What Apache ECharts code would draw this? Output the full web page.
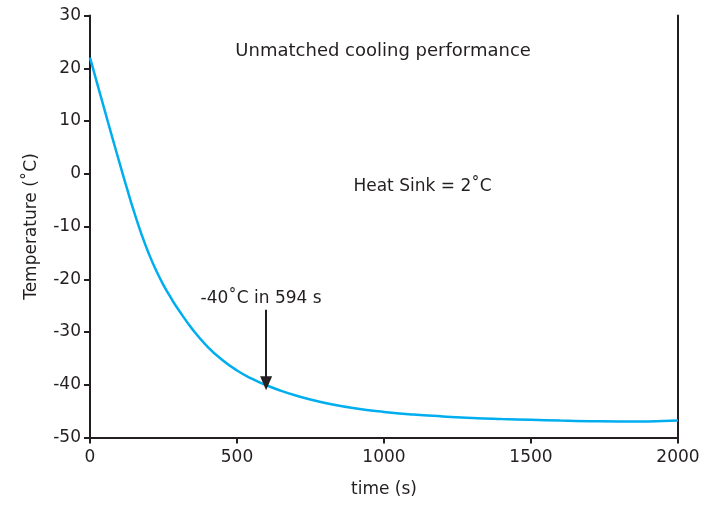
<!DOCTYPE html>
<html>
<head>
<meta charset="utf-8">
<script src="https://cdn.jsdelivr.net/npm/echarts@6/dist/echarts.min.js"></script>
<style>html,body{margin:0;padding:0;background:#fff}#c{width:708px;height:506px}</style>
</head>
<body>
<div id="c"></div>
<script>
// time (s)
const times = [0, 25, 50, 75, 100, 125, 150, 175, 200, 225, 250, 275, 300, 350, 400, 450, 500, 550, 600, 650, 700, 750, 800, 900, 1000, 1100, 1200, 1300, 1400, 1500, 1600, 1700, 1800, 1900, 2000];
// temperature (˚C)
const temps = [22, 17, 12, 7.05, 2.15, -2.65, -7.25, -11.45, -15.15, -18.35, -21.1, -23.5, -25.7, -29.6, -32.8, -35.3, -37.3, -38.85, -40.1, -41.15, -42.05, -42.8, -43.45, -44.45, -45.15, -45.65, -46, -46.3, -46.5, -46.65, -46.8, -46.9, -46.95, -46.95, -46.8];
const yTicks = [-50, -40, -30, -20, -10, 0, 10, 20, 30];
const xTicks = [0, 500, 1000, 1500, 2000];
const titleText = 'Unmatched cooling performance';
const sinkText = 'Heat Sink = 2˚C';
const noteText = '-40˚C in 594 s';
const noteTime = 599, arrowTop = -25.8, arrowTip = -39.7;

const font = 'DejaVu Sans';
const ink = '#231f20';
const fs = 17;
const chart = echarts.init(document.getElementById('c'));
const pts = times.map((t, i) => [t, temps[i]]);
const textPt = (name, coord, size) => ({
  name, coord, symbol: 'circle', symbolSize: 1,
  itemStyle: {color: 'rgba(0,0,0,0)'},
  label: {show: true, position: 'inside', formatter: name, color: ink, fontSize: size, fontFamily: font}
});
chart.setOption({
  animation: false,
  grid: {left: 90, right: 30, top: 15.5, bottom: 68.5},
  xAxis: {
    type: 'value', min: xTicks[0], max: xTicks[xTicks.length - 1], interval: 500,
    name: 'time (s)', nameLocation: 'middle', nameGap: 44,
    nameTextStyle: {color: ink, fontSize: fs, fontFamily: font},
    axisLine: {onZero: false, lineStyle: {color: ink, width: 2}},
    axisTick: {show: true, length: 6, lineStyle: {color: ink, width: 2}},
    axisLabel: {color: ink, fontSize: fs, fontFamily: font, margin: 12, formatter: v => String(v)},
    splitLine: {show: false}
  },
  yAxis: [{
    type: 'value', min: yTicks[0], max: yTicks[yTicks.length - 1], interval: 10,
    name: 'Temperature (˚C)', nameLocation: 'middle', nameGap: 50,
    nameTextStyle: {color: ink, fontSize: fs, fontFamily: font},
    axisLine: {show: true, onZero: false, lineStyle: {color: ink, width: 2}},
    axisTick: {show: true, length: 6, lineStyle: {color: ink, width: 2}},
    axisLabel: {color: ink, fontSize: fs, fontFamily: font, margin: 9, formatter: v => String(v)},
    splitLine: {show: false}
  }, {
    type: 'value', position: 'right', min: yTicks[0], max: yTicks[yTicks.length - 1], interval: 10,
    axisLine: {show: true, onZero: false, lineStyle: {color: ink, width: 2}},
    axisTick: {show: false}, axisLabel: {show: false}, splitLine: {show: false}
  }],
  series: [{
    type: 'line', data: pts, smooth: 0.5, showSymbol: false,
    lineStyle: {color: '#00aeef', width: 2.5},
    markPoint: {
      silent: true,
      data: [
        textPt(titleText, [997, 23.3], 18),
        textPt(sinkText, [1131, -2.5], fs),
        textPt(noteText, [582, -23.6], fs)
      ]
    },
    markLine: {
      silent: true, symbol: ['none', 'triangle'], symbolSize: [12, 14],
      lineStyle: {color: ink, width: 2, type: 'solid'},
      label: {show: false},
      data: [[{coord: [noteTime, arrowTop]}, {coord: [noteTime, arrowTip]}]]
    }
  }]
});
</script>
</body>
</html>
